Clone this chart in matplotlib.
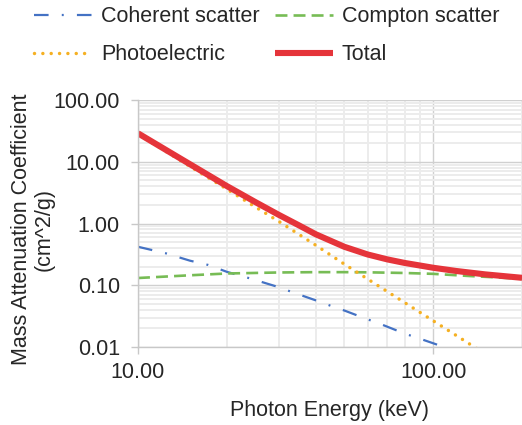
import matplotlib
matplotlib.use("Agg")
import matplotlib.pyplot as plt
from matplotlib.ticker import FixedLocator, LogLocator, NullFormatter, FixedFormatter

plt.rcParams['font.family'] = ['Liberation Sans', 'DejaVu Sans']
plt.rcParams['lines.scale_dashes'] = False

# Data
energy_coh = [10, 12.4, 15, 17.3, 20, 24.1, 30, 33.4, 40, 46.4, 50, 60, 64.3, 80, 88.7, 100, 110]
coherent = [0.42, 0.33, 0.25, 0.213, 0.165, 0.128, 0.093, 0.077, 0.057, 0.044, 0.039, 0.028,
            0.025, 0.0165, 0.014, 0.0115, 0.0098]

energy_comp = [10, 15, 20, 30, 40, 50, 60, 80, 100, 133, 150, 200]
compton = [0.131, 0.145, 0.155, 0.161, 0.163, 0.163, 0.162, 0.158, 0.153, 0.141, 0.137, 0.127]

energy_pe = [10, 15, 20, 25, 30, 40, 50, 60, 80, 100, 137, 150]
photoelectric = [28, 8.4, 3.6, 1.85, 1.08, 0.445, 0.22, 0.126, 0.0525, 0.0266, 0.0102, 0.0077]

energy_tot = [10, 14, 20, 25, 30, 35, 40, 50, 60, 70, 80, 100, 120, 150, 200]
total = [28.9, 11.1, 4.04, 2.22, 1.38, 0.94, 0.67, 0.42, 0.315, 0.262, 0.230, 0.192, 0.170,
         0.150, 0.132]

x_ticks = [10, 100]
x_tick_labels = ["10.00", "100.00"]
y_ticks = [0.01, 0.1, 1, 10, 100]
y_tick_labels = ["0.01", "0.10", "1.00", "10.00", "100.00"]

text_color = "#262626"
fs = 15.5

fig = plt.figure(figsize=(5.22, 4.25), dpi=100)
ax = fig.add_axes([138/522, 78/425, 384/522, 247/425])

l_coh, = ax.plot(energy_coh, coherent, color="#4472C4", lw=1.6,
                 linestyle=(0, (10.5, 9.5, 1.4, 9.5)), label="Coherent scatter")
l_comp, = ax.plot(energy_comp, compton, color="#77BC55", lw=1.9,
                  linestyle=(0, (8.6, 4.4)), label="Compton scatter")
l_pe, = ax.plot(energy_pe, photoelectric, color="#F5B022", lw=2.5,
                linestyle=(0, (0.01, 6.0)), dash_capstyle="round", label="Photoelectric")
l_tot, = ax.plot(energy_tot, total, color="#E5343A", lw=4.4,
                 solid_capstyle="butt", solid_joinstyle="round", label="Total")

ax.set_xscale("log")
ax.set_yscale("log")
ax.set_xlim(10, 200)
ax.set_ylim(0.01, 100)

ax.xaxis.set_major_locator(FixedLocator(x_ticks))
ax.xaxis.set_major_formatter(FixedFormatter(x_tick_labels))
ax.yaxis.set_major_locator(FixedLocator(y_ticks))
ax.yaxis.set_major_formatter(FixedFormatter(y_tick_labels))
ax.xaxis.set_minor_locator(LogLocator(base=10, subs=range(2, 10)))
ax.yaxis.set_minor_locator(LogLocator(base=10, subs=range(2, 10)))
ax.xaxis.set_minor_formatter(NullFormatter())
ax.yaxis.set_minor_formatter(NullFormatter())

ax.grid(which="major", color="#d0d0d0", lw=1.0)
ax.grid(which="minor", color="#ececec", lw=1.4)
ax.set_axisbelow(True)

for s in ["top", "right"]:
    ax.spines[s].set_visible(False)
for s in ["left", "bottom"]:
    ax.spines[s].set_color("#c8c8c8")
    ax.spines[s].set_linewidth(1.0)

ax.tick_params(which="major", length=5, width=1.0, color="#c8c8c8",
               labelsize=fs, labelcolor=text_color)
ax.tick_params(axis="y", which="major", pad=8)
ax.tick_params(axis="x", which="major", pad=6)
ax.tick_params(which="minor", length=0)

ax.set_xlabel("Photon Energy (keV)", fontsize=fs, color=text_color, labelpad=12)
ax.set_ylabel("Mass Attenuation Coefficient\n(cm^2/g)", fontsize=fs,
              color=text_color, linespacing=1.05)
ax.yaxis.set_label_coords(-0.218, 0.476)

fig.legend(handles=[l_coh, l_pe, l_comp, l_tot], ncol=2, loc="upper left",
           bbox_to_anchor=(32/522, 1.0 - 4/425), frameon=False, fontsize=fs,
           handlelength=2.7, handletextpad=0.4, columnspacing=0.72,
           labelspacing=0.8, borderaxespad=0.0, borderpad=0.1,
           labelcolor=text_color)

fig.savefig("out.png", dpi=100)
